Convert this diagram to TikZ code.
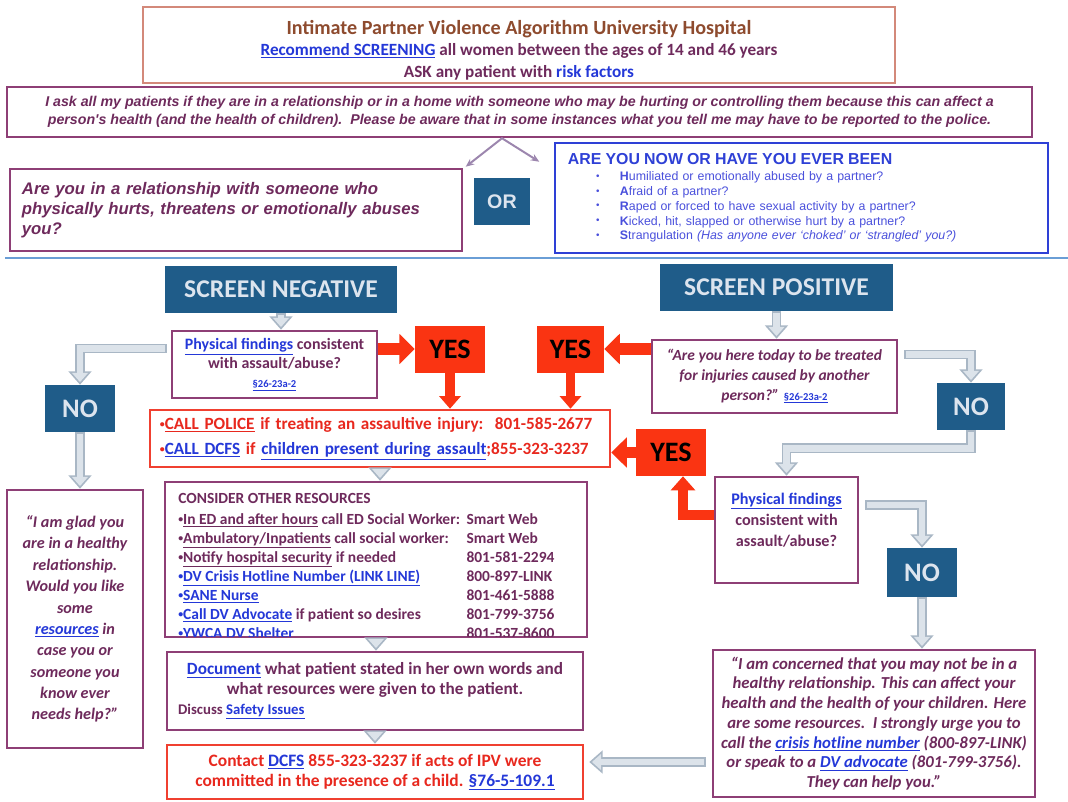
\documentclass[tikz,border=0pt]{standalone}
\usepackage{fontspec}
\setmainfont{Carlito}
\newfontfamily\arialfont{Liberation Sans}
\usetikzlibrary{arrows.meta,calc}

\definecolor{titlebrown}{HTML}{8E4B2E}
\definecolor{plumtext}{HTML}{6E2A5C}
\definecolor{plumedge}{HTML}{8E3F76}
\definecolor{linkblue}{HTML}{2438D8}
\definecolor{hdredge}{HTML}{D3897A}
\definecolor{blueedge}{HTML}{2E40D6}
\definecolor{bluetext}{HTML}{4A50DC}
\definecolor{navy}{HTML}{1F5C89}
\definecolor{navytext}{HTML}{DCE4EE}
\definecolor{redfill}{HTML}{FA3412}
\definecolor{rededge}{HTML}{F04030}
\definecolor{redtext}{HTML}{E8281E}
\definecolor{greyfill}{HTML}{DCE3EA}
\definecolor{greyedge}{HTML}{A9B7C5}
\definecolor{sepblue}{HTML}{6A9ED6}
\definecolor{chevcol}{HTML}{9C86AE}

\newcommand\lnk[1]{\textcolor{linkblue}{\underline{#1}}}
\newcommand\bul{{\fontsize{7}{8}\selectfont\raisebox{1pt}{•}}}

\begin{document}
\begin{tikzpicture}[x=0.025cm, y=-0.025cm,
    bx/.style 2 args={minimum width=#1*0.025cm, minimum height=#2*0.025cm},
    hdrbox/.style={rectangle, draw=hdredge, line width=1.2pt, fill=white, inner sep=0pt},
    plumbox/.style={rectangle, draw=plumedge, line width=1.8pt, fill=white, inner sep=0pt, text=plumtext},
    bluebox/.style={rectangle, draw=blueedge, line width=1.8pt, fill=white, inner sep=0pt},
    redbox/.style={rectangle, draw=rededge, line width=1.8pt, fill=white, inner sep=0pt, text=redtext},
    navynode/.style={rectangle, fill=navy, text=navytext, inner sep=0pt},
    yesnode/.style={rectangle, fill=redfill, text=black, inner sep=0pt, font=\bfseries\fontsize{20}{22}\selectfont, bx={70}{47}},
    greyarrow/.style={draw=greyfill, line width=4.6pt, -{Triangle[width=11pt,length=6.5pt]}, shorten >=1.9pt, shorten <=1.2pt,
        preaction={draw=greyedge, line width=7pt, -{Triangle[width=16pt,length=9.5pt]}, shorten >=0pt, shorten <=0pt}},
    redarrow/.style={draw=redfill, line width=8.5pt, -{Triangle[width=21pt,length=11pt]}},
    reddown/.style={draw=redfill, line width=6.5pt, -{Triangle[width=15pt,length=9pt]}},
    chevline/.style={draw=chevcol, line width=1.4pt, {Stealth[length=6pt,width=5pt]}-{Stealth[length=6pt,width=5pt]}},
    sepline/.style={draw=sepblue, line width=2pt}]
\path[use as bounding box, fill=white] (0,0) rectangle (1068,802);

% top part
\node[hdrbox, bx={752}{76}, align=center, text=plumtext, font=\bfseries\fontsize{12.2}{15.3}\selectfont] (hdr) at (519,45)
    {\rule{0pt}{17pt}{\fontsize{14.3}{15.3}\selectfont\color{titlebrown}Intimate Partner Violence Algorithm University Hospital}\\
     \lnk{Recommend SCREENING} all women between the ages of 14 and 46 years\\
     ASK any patient with \textcolor{linkblue}{risk factors}};
\node[plumbox, bx={1025}{50}, align=center, font=\arialfont\bfseries\itshape\fontsize{10.1}{12.8}\selectfont] (ask) at (519.5,112)
    {I ask all my patients if they are in a relationship or in a home with someone who may be hurting or controlling them because this can affect a\\
     person's health (and the health of children).\ \ Please be aware that in some instances what you tell me may have to be reported to the police.};
\node[plumbox, bx={452}{82}, text width=10.7cm, inner xsep=0.3cm, align=left, font=\arialfont\bfseries\itshape\fontsize{11.9}{14.2}\selectfont] (qleft) at (236,210)
    {Are you in a relationship with someone who\\ physically hurts, threatens or emotionally abuses\\ you?};
\node[navynode, bx={56}{47}, font=\arialfont\bfseries\fontsize{14}{16}\selectfont] (or) at (502,201.5) {OR};
\node[bluebox, bx={493}{110}, text width=11.675cm, inner xsep=0.325cm, align=left, text=bluetext, font=\arialfont\fontsize{8.8}{10.5}\selectfont] (qright) at (801.5,198)
    {{\fontsize{11.3}{13}\selectfont\bfseries\color{blueedge}ARE YOU NOW OR HAVE YOU EVER BEEN}\\[1pt]
     \makebox[37pt][l]{\hspace{20pt}\bul}\textbf{H}umiliated or emotionally abused by a partner?\\
     \makebox[37pt][l]{\hspace{20pt}\bul}\textbf{A}fraid of a partner?\\
     \makebox[37pt][l]{\hspace{20pt}\bul}\textbf{R}aped or forced to have sexual activity by a partner?\\
     \makebox[37pt][l]{\hspace{20pt}\bul}\textbf{K}icked, hit, slapped or otherwise hurt by a partner?\\
     \makebox[37pt][l]{\hspace{20pt}\bul}\textbf{S}trangulation \textit{(Has anyone ever ‘choked’ or ‘strangled’ you?)}};
\coordinate (apex) at (or.north |- ask.south);
\draw[chevline] ($(or.north west)+(-8,-11)$) -- (apex) -- ($(or.north east)+(9,-16)$);
\draw[sepline] (5,258) -- (1068,258);

% screening
\node[navynode, bx={232}{47}, font=\bfseries\fontsize{18.2}{20}\selectfont] (sneg) at (281,289.5) {SCREEN NEGATIVE};
\node[navynode, bx={233}{47}, font=\bfseries\fontsize{18.2}{20}\selectfont] (spos) at (776.5,287.5) {SCREEN POSITIVE};
\node[plumbox, bx={205}{67}, align=center, font=\bfseries\fontsize{11.3}{13.5}\selectfont] (physL) at (274.5,364.5)
    {\lnk{Physical findings} consistent\\ with assault/abuse?\\ {\fontsize{7.5}{9}\selectfont\lnk{§26-23a-2}}};
\node[yesnode] (yesL) at (450,349) {YES};
\node[yesnode, bx={67}{47}] (yesM) at (570.5,349) {YES};
\node[plumbox, bx={245}{73}, align=center, font=\bfseries\itshape\fontsize{11}{13.9}\selectfont] (qpos) at (774.5,376.5)
    {“Are you here today to be treated\\ for injuries caused by another\\ person?” {\upshape\fontsize{7.5}{9}\selectfont\lnk{§26-23a-2}}};
\node[redbox, bx={460}{57}, text width=11cm, inner xsep=0.25cm, align=left, font=\bfseries\fontsize{12.2}{17.8}\selectfont] (police) at (380,438.5)
    {\bul\underline{CALL POLICE} if treating an assaultive injury:\ \ 801-585-2677\\
     \bul\lnk{CALL DCFS} if \lnk{children present during assault};855-323-3237};
\node[navynode, bx={70}{47}, font=\bfseries\fontsize{19}{21}\selectfont] (noL) at (80,408.5) {NO};
\node[navynode, bx={68}{47}, font=\bfseries\fontsize{19}{21}\selectfont] (noR) at (971,406.5) {NO};
\node[yesnode] (yesR) at (671,452.5) {YES};
\node[plumbox, bx={143}{106}, align=center, font=\bfseries\fontsize{11.5}{15}\selectfont] (physR) at (786.5,530)
    {\lnk{Physical findings}\\ consistent with\\ assault/abuse?\\ \mbox{}};
\node[navynode, bx={70}{49}, font=\bfseries\fontsize{19}{21}\selectfont] (noR2) at (922,572.5) {NO};

% lower part
\node[plumbox, bx={136}{258}, align=center, font=\bfseries\itshape\fontsize{11.5}{15.2}\selectfont] (glad) at (75,619)
    {“I am glad you\\ are in a healthy\\ relationship.\\ Would you like\\ some\\ \lnk{resources} in\\ case you or\\ someone you\\ know ever\\ needs help?”};
\node[plumbox, fill=none, bx={422}{155}] (res) at (376,559.5) {};
\begin{scope}
  \clip ($(res.north west)+(1.5,1.5)$) rectangle ($(res.south east)+(-1.5,-1.5)$);
  \node[anchor=north west, inner sep=0pt, text=plumtext, font=\bfseries\fontsize{11}{13.5}\selectfont] (reslist) at (178,489.7)
    {\begin{tabular}{@{}p{205pt}@{}l@{}}
     \multicolumn{2}{@{}l@{}}{CONSIDER OTHER RESOURCES}\\[1.5pt]
     \bul\underline{In ED and after hours} call ED Social Worker: & Smart Web\\
     \bul\underline{Ambulatory/Inpatients} call social worker: & Smart Web\\
     \bul\underline{Notify hospital security} if needed & 801-581-2294\\
     \textcolor{linkblue}{\bul\underline{DV Crisis Hotline Number (LINK LINE)}} & 800-897-LINK\\
     \textcolor{linkblue}{\bul\underline{SANE Nurse}} & 801-461-5888\\
     \textcolor{linkblue}{\bul\underline{Call DV Advocate}} if patient so desires & 801-799-3756\\
     \textcolor{linkblue}{\bul\underline{YWCA DV Shelter}} & 801-537-8600
     \end{tabular}};
\end{scope}
\node[plumbox, bx={416}{78}, align=center, font=\bfseries\fontsize{12.2}{14}\selectfont] (doc) at (375,691)
    {\lnk{Document} what patient stated in her own words and\\ what resources were given to the patient.\\
     \makebox[280pt][l]{\fontsize{10.5}{12}\selectfont Discuss \lnk{Safety Issues}}};
\node[redbox, bx={416}{54}, align=center, font=\bfseries\fontsize{12.4}{14.2}\selectfont] (contact) at (375,772)
    {Contact \lnk{DCFS} 855-323-3237 if acts of IPV were\\ committed in the presence of a child. \lnk{§76-5-109.1}};
\node[plumbox, bx={322}{147}, align=center, font=\bfseries\itshape\fontsize{11.9}{14}\selectfont] (concern) at (874,723.5)
    {“I am concerned that you may not be in a\\ healthy relationship. This can affect your\\ health and the health of your children. Here\\
     are some resources.\ \ I strongly urge you to\\ call the \lnk{crisis hotline number} (800-897-LINK)\\
     or speak to a \lnk{DV advocate} (801-799-3756).\\ They can help you.”};

% grey connectors
\draw[greyarrow] (sneg.south) -- (sneg.south |- physL.north);
\draw[greyarrow] (spos.south) -- (spos.south |- qpos.north);
\draw[greyarrow] ($(physL.west)+(-4,-16)$) -| (noL.north);
\draw[greyarrow] (noL.south) -- (noL.south |- glad.north);
\draw[greyarrow] ($(qpos.east)+(6,-22)$) -| (noR.north);
\draw[greyarrow] (noR.south) -- ++(0,18) -| (physR.north);
\draw[greyarrow] ($(physR.east)+(6,-25)$) -| (noR2.north);
\draw[greyarrow] (noR2.south) -- (noR2.south |- concern.north);
\draw[greyarrow] (police.south) -- (police.south |- res.north);
\draw[greyarrow] (res.south) -- (res.south |- doc.north);
\draw[greyarrow] (doc.south) -- (doc.south |- contact.north);
\draw[greyarrow] ($(concern.west |- contact.east)+(-6,-10)$) -- ($(contact.east)+(5,-10)$);

% red connectors
\draw[redarrow] (physL.east |- yesL.west) -- (yesL.west);
\draw[redarrow] (qpos.west |- yesM.east) -- (yesM.east);
\draw[reddown] (yesL.south) -- (yesL.south |- police.north);
\draw[reddown] (yesM.south) -- (yesM.south |- police.north);
\draw[redarrow] (yesR.west) -- (yesR.west -| police.east);
\draw[reddown, line width=7pt, -{Triangle[width=17pt,length=10pt]}] ($(physR.west)+(0,-15)$) -| ($(yesR.south)+(12,0)$);
\end{tikzpicture}
\end{document}
